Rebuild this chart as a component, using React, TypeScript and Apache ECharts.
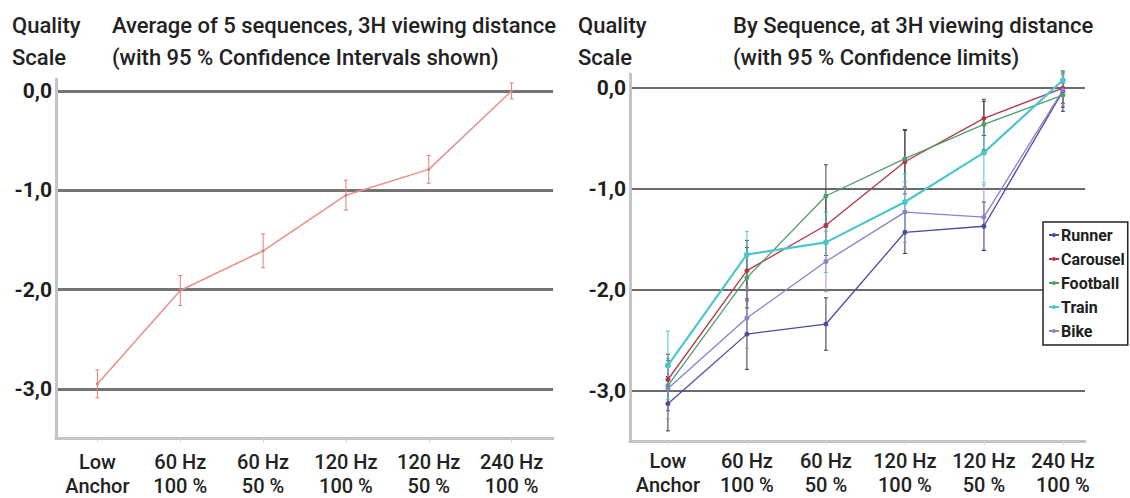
import React, { useEffect, useRef } from "react";
import * as echarts from "echarts";

const categories = ["Low\nAnchor", "60 Hz\n100 %", "60 Hz\n50 %", "120 Hz\n100 %", "120 Hz\n50 %", "240 Hz\n100 %"];
const yTickValues = [0, -1, -2, -3];

const averageValues = [-2.95, -2.01, -1.61, -1.05, -0.79, 0.0];
const averageCI = [0.14, 0.15, 0.17, 0.15, 0.14, 0.08];

const sequenceNames = ["Runner", "Carousel", "Football", "Train", "Bike"];
const runnerValues = [-3.13, -2.44, -2.34, -1.43, -1.37, -0.03];
const carouselValues = [-2.89, -1.81, -1.36, -0.73, -0.3, 0.0];
const footballValues = [-2.95, -1.88, -1.07, -0.7, -0.36, -0.07];
const trainValues = [-2.75, -1.65, -1.53, -1.13, -0.64, 0.08];
const bikeValues = [-2.98, -2.28, -1.72, -1.23, -1.28, -0.02];

const runnerCI = [0.27, 0.35, 0.26, 0.21, 0.24, 0.2];
const carouselCI = [0.25, 0.3, 0.3, 0.32, 0.17, 0.15];
const footballCI = [0.25, 0.3, 0.31, 0.28, 0.25, 0.12];
const trainCI = [0.34, 0.23, 0.3, 0.28, 0.3, 0.08];
const bikeCI = [0.3, 0.3, 0.3, 0.3, 0.32, 0.15];

const FONT = "Roboto";

function errRender(color: string, cap: number) {
  return (params: any, api: any) => {
    const x = api.value(0);
    const lo = api.value(1);
    const hi = api.value(2);
    const p1 = api.coord([x, hi]);
    const p2 = api.coord([x, lo]);
    const st = { stroke: color, lineWidth: 1 };
    return {
      type: "group",
      children: [
        { type: "line", shape: { x1: p1[0], y1: p1[1], x2: p2[0], y2: p2[1] }, style: st },
        { type: "line", shape: { x1: p1[0] - cap, y1: p1[1], x2: p1[0] + cap, y2: p1[1] }, style: st },
        { type: "line", shape: { x1: p2[0] - cap, y1: p2[1], x2: p2[0] + cap, y2: p2[1] }, style: st },
      ],
    };
  };
}

function errData(vals: number[], ci: number[]) {
  return vals.map((v, i) => [i, v - ci[i], v + ci[i]]);
}
function lineData(vals: number[]) {
  return vals.map((v, i) => [i, v]);
}

function yAxisFor(gridIndex: number, max: number, gridColor: string, gridWidth: number) {
  return {
    type: "value",
    gridIndex,
    min: -3.5,
    max,
    interval: 0.5,
    axisLine: { show: true, onZero: false, lineStyle: { color: "#c4c4c4", width: 3 } },
    axisTick: { show: false },
    splitLine: { show: true, lineStyle: { color: ["rgba(0,0,0,0)", gridColor], width: gridWidth } },
    axisLabel: {
      margin: 4,
      fontFamily: FONT,
      fontSize: 21,
      fontWeight: "bold",
      color: "#1e1e1e",
      formatter: (v: number) => (yTickValues.indexOf(Math.round(v * 100) / 100) >= 0 ? v.toFixed(1).replace(".", ",") : ""),
    },
  };
}

function xAxisFor(gridIndex: number, min: number, max: number, margin: number) {
  const idx = categories.map((_, i) => i);
  return {
    type: "value",
    gridIndex,
    min,
    max,
    splitLine: { show: false },
    axisLine: { show: true, onZero: false, lineStyle: { color: "#c4c4c4", width: 3 } },
    axisTick: { show: true, customValues: idx, length: 4, lineStyle: { color: "#d8d8d8", width: 1 } },
    axisLabel: {
      customValues: idx,
      margin,
      fontFamily: FONT,
      fontSize: 20,
      fontWeight: 500,
      lineHeight: 24,
      color: "#222",
      formatter: (v: number) => categories[Math.round(v)] ?? "",
    },
  };
}

const seqColors = ["#4b4c9e", "#b5364a", "#4f9f6f", "#4cc6cc", "#8a80cc"];
const seqErrColors = ["#333344", "#5a3a40", "#3a4a40", "#4cc6cc", "#9a94cc"];

export default function App() {
  const ref = useRef<HTMLDivElement>(null);
  useEffect(() => {
    if (!ref.current) return;
    const chart = echarts.init(ref.current, undefined, { renderer: "svg" });
    const seqValues = [runnerValues, carouselValues, footballValues, trainValues, bikeValues];
    const seqCI = [runnerCI, carouselCI, footballCI, trainCI, bikeCI];

    const series: any[] = [];
    series.push({
      type: "custom",
      name: "avgErr",
      xAxisIndex: 0,
      yAxisIndex: 0,
      renderItem: errRender("#e07f7a", 2),
      encode: { x: 0, y: [1, 2] },
      data: errData(averageValues, averageCI),
      z: 3,
    });
    series.push({
      type: "line",
      name: "Average",
      xAxisIndex: 0,
      yAxisIndex: 0,
      data: lineData(averageValues),
      symbol: "circle",
      symbolSize: 3,
      itemStyle: { color: "#e07f7a" },
      lineStyle: { color: "#eb8f88", width: 1.5 },
      z: 4,
    });
    sequenceNames.forEach((name, k) => {
      series.push({
        type: "custom",
        name: name + "Err",
        xAxisIndex: 1,
        yAxisIndex: 1,
        renderItem: errRender(seqErrColors[k], 2),
        encode: { x: 0, y: [1, 2] },
        data: errData(seqValues[k], seqCI[k]),
        z: 2,
      });
    });
    sequenceNames.forEach((name, k) => {
      series.push({
        type: "line",
        name,
        xAxisIndex: 1,
        yAxisIndex: 1,
        data: lineData(seqValues[k]),
        symbol: "circle",
        symbolSize: name === "Train" ? 6 : 5,
        itemStyle: { color: seqColors[k] },
        lineStyle: { color: seqColors[k], width: name === "Train" ? 2.2 : 1.3 },
        z: 4,
      });
    });

    const titleFont = `500 22px ${FONT}`;
    chart.setOption({
      animation: false,
      backgroundColor: "#ffffff",
      grid: [
        { left: 56, top: 79, width: 497, height: 359.5, containLabel: false, outerBoundsMode: "none" },
        { left: 630, top: 74, width: 455, height: 367, containLabel: false, outerBoundsMode: "none" },
      ],
      xAxis: [xAxisFor(0, -0.5, 5.5, 11), xAxisFor(1, -0.48, 5.28, 8)],
      yAxis: [yAxisFor(0, 0.12, "#747474", 3), yAxisFor(1, 0.14, "#6a6a6a", 2)],
      legend: {
        data: sequenceNames,
        orient: "vertical",
        left: 1043,
        top: 222,
        backgroundColor: "#ffffff",
        borderColor: "#222",
        borderWidth: 1.5,
        borderRadius: 0,
        padding: [5, 3, 6, 5],
        itemGap: 8,
        itemWidth: 10,
        itemHeight: 5,
        textStyle: { fontFamily: FONT, fontSize: 16, fontWeight: "bold", color: "#1e1e1e", padding: [0, 0, 0, -3] },
      },
      graphic: [
        { type: "text", left: 12, top: 9, style: { text: "Quality\nScale", font: titleFont, lineHeight: 32, fill: "#222" } },
        {
          type: "text",
          left: 112,
          top: 9,
          style: {
            text: "Average of 5 sequences, 3H viewing distance\n(with 95 % Confidence Intervals shown)",
            font: titleFont,
            lineHeight: 32,
            fill: "#222",
          },
        },
        { type: "text", left: 578, top: 9, style: { text: "Quality\nScale", font: titleFont, lineHeight: 32, fill: "#222" } },
        {
          type: "text",
          left: 733,
          top: 9,
          style: {
            text: "By Sequence, at 3H viewing distance\n(with 95 % Confidence limits)",
            font: titleFont,
            lineHeight: 32,
            fill: "#222",
          },
        },
      ],
      series,
    });
    return () => chart.dispose();
  }, []);
  return <div ref={ref} style={{ position: "fixed", left: 0, top: 0, width: 1130, height: 498 }} />;
}
